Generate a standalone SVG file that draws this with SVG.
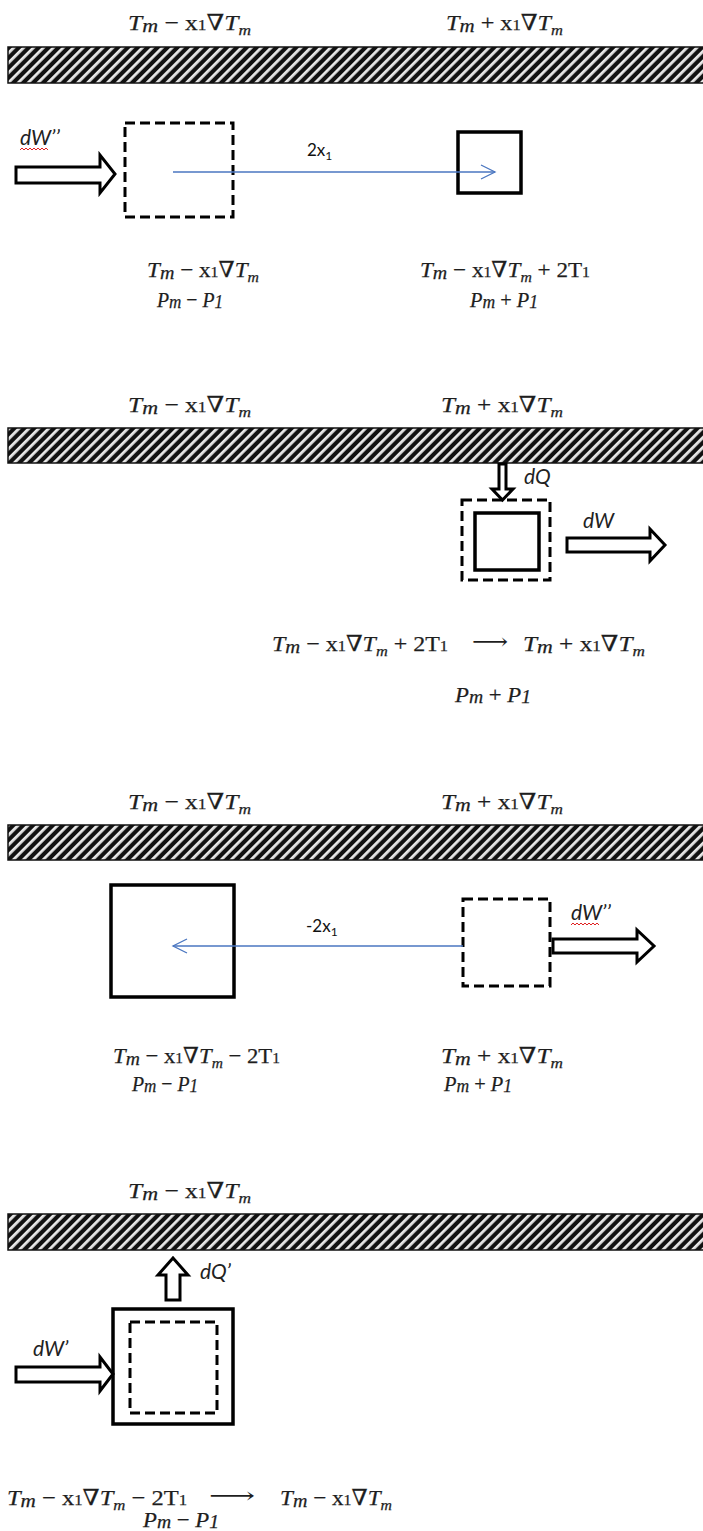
<svg xmlns="http://www.w3.org/2000/svg" width="703" height="1531" viewBox="0 0 703 1531">
<style>
.mt{font-family:"Liberation Serif","DejaVu Serif",serif;font-size:22px;fill:#1e1e1e;stroke:#1e1e1e;stroke-width:0.25}
.pt{font-family:"Liberation Serif","DejaVu Serif",serif;font-size:22px;fill:#1e1e1e;stroke:#1e1e1e;stroke-width:0.25}
.it{font-style:italic}
.sb{font-size:15px}
.sm{font-size:19px}
.ar{font-family:"DejaVu Serif","Liberation Serif",serif;font-size:22px;fill:#1e1e1e}
.lb{font-family:Lato,"Liberation Sans",sans-serif;font-size:17px;fill:#111}
.dl{font-family:Lato,"Liberation Sans",sans-serif;font-style:italic;font-size:21px;fill:#222}
.bar{fill:url(#hatch);stroke:#111;stroke-width:1.5}
.solid{fill:none;stroke:#000;stroke-width:3.5}
.dash{fill:none;stroke:#000;stroke-width:3;stroke-dasharray:10 5}
.hol{fill:#fff;stroke:#000;stroke-width:3;stroke-linejoin:miter}
.blue{fill:none;stroke:#4a76c0;stroke-width:1.3}
.wavy{fill:none;stroke:#e02020;stroke-width:1}
</style>
<defs>
<pattern id="hatch" width="7" height="7" patternUnits="userSpaceOnUse" patternTransform="rotate(45)">
<rect width="7" height="7" fill="#111"/>
<rect x="0" y="0" width="2.8" height="7" fill="#e8e8e8"/>
</pattern>
</defs>
<rect width="703" height="1531" fill="#fff"/>

<!-- Panel 1 -->
<g id="panel1">
<g id="p1-top-left"><text class="mt" x="128" y="30" textLength="123" lengthAdjust="spacingAndGlyphs"><tspan class="it">T</tspan><tspan class="it sm" dy="2">m</tspan><tspan dy="-2"> − x</tspan><tspan class="sb">1</tspan><tspan>∇</tspan><tspan class="it">T</tspan><tspan class="it sb" dy="5">m</tspan></text></g>
<g id="p1-top-right"><text class="mt" x="446" y="30" textLength="117" lengthAdjust="spacingAndGlyphs"><tspan class="it">T</tspan><tspan class="it sm" dy="2">m</tspan><tspan dy="-2"> + x</tspan><tspan class="sb">1</tspan><tspan>∇</tspan><tspan class="it">T</tspan><tspan class="it sb" dy="5">m</tspan></text></g>
<rect id="p1-wall" class="bar" x="8" y="47" width="700" height="36"/>
<g id="p1-dW">
<text class="dl" x="20" y="145">dW’’</text>
<path class="wavy" d="M20,150 l2,-2 l2,2 l2,-2 l2,2 l2,-2 l2,2 l2,-2 l2,2 l2,-2 l2,2 l2,-2 l2,2 l2,-2 l2,2"/>
</g>
<polygon id="p1-arrow" class="hol" points="16,167 100,167 100,155 115,174 100,193 100,183 16,183"/>
<rect id="p1-dashed-box" class="dash" x="125" y="123" width="108" height="94"/>
<rect id="p1-solid-box" class="solid" x="458" y="132" width="63" height="61"/>
<g id="p1-low-left">
<text class="mt" x="147" y="277" textLength="112" lengthAdjust="spacingAndGlyphs"><tspan class="it">T</tspan><tspan class="it sm" dy="2">m</tspan><tspan dy="-2"> − x</tspan><tspan class="sb">1</tspan><tspan>∇</tspan><tspan class="it">T</tspan><tspan class="it sb" dy="5">m</tspan></text>
<text class="pt" x="157" y="307" textLength="66" lengthAdjust="spacingAndGlyphs"><tspan class="it">P</tspan><tspan class="it sm" dy="1">m</tspan><tspan dy="-1"> − </tspan><tspan class="it">P</tspan><tspan class="it sm" dy="1">1</tspan></text>
</g>
<g id="p1-low-right">
<text class="mt" x="420" y="277" textLength="170" lengthAdjust="spacingAndGlyphs"><tspan class="it">T</tspan><tspan class="it sm" dy="2">m</tspan><tspan dy="-2"> − x</tspan><tspan class="sb">1</tspan><tspan>∇</tspan><tspan class="it">T</tspan><tspan class="it sb" dy="5">m</tspan><tspan dy="-5"> + 2T</tspan><tspan class="sb">1</tspan></text>
<text class="pt" x="470" y="307" textLength="68" lengthAdjust="spacingAndGlyphs"><tspan class="it">P</tspan><tspan class="it sm" dy="1">m</tspan><tspan dy="-1"> + </tspan><tspan class="it">P</tspan><tspan class="it sm" dy="1">1</tspan></text>
</g>
</g>

<!-- Panel 2 -->
<g id="panel2">
<g id="p2-top-left"><text class="mt" x="128" y="412" textLength="123" lengthAdjust="spacingAndGlyphs"><tspan class="it">T</tspan><tspan class="it sm" dy="2">m</tspan><tspan dy="-2"> − x</tspan><tspan class="sb">1</tspan><tspan>∇</tspan><tspan class="it">T</tspan><tspan class="it sb" dy="5">m</tspan></text></g>
<g id="p2-top-right"><text class="mt" x="441" y="412" textLength="122" lengthAdjust="spacingAndGlyphs"><tspan class="it">T</tspan><tspan class="it sm" dy="2">m</tspan><tspan dy="-2"> + x</tspan><tspan class="sb">1</tspan><tspan>∇</tspan><tspan class="it">T</tspan><tspan class="it sb" dy="5">m</tspan></text></g>
<rect id="p2-wall" class="bar" x="8" y="428" width="700" height="35"/>
<polygon id="p2-dQ-arrow" class="hol" points="499,464 506,464 506,489 513,489 502.5,500 492,489 499,489"/>
<text id="p2-dQ" class="dl" x="524" y="484">dQ</text>
<rect id="p2-dashed-box" class="dash" x="462" y="500" width="88" height="80"/>
<rect id="p2-solid-box" class="solid" x="475" y="513" width="64" height="57"/>
<text id="p2-dW" class="dl" x="583" y="528">dW</text>
<polygon id="p2-arrow" class="hol" points="567,538 650,538 650,529 665,545 650,561 650,552 567,552"/>
<g id="p2-low">
<text class="mt" x="272" y="651" textLength="176" lengthAdjust="spacingAndGlyphs"><tspan class="it">T</tspan><tspan class="it sm" dy="2">m</tspan><tspan dy="-2"> − x</tspan><tspan class="sb">1</tspan><tspan>∇</tspan><tspan class="it">T</tspan><tspan class="it sb" dy="5">m</tspan><tspan dy="-5"> + 2T</tspan><tspan class="sb">1</tspan></text>
<text class="ar" x="472" y="649" textLength="36" lengthAdjust="spacingAndGlyphs">⟶</text>
<text class="mt" x="523" y="651" textLength="122" lengthAdjust="spacingAndGlyphs"><tspan class="it">T</tspan><tspan class="it sm" dy="2">m</tspan><tspan dy="-2"> + x</tspan><tspan class="sb">1</tspan><tspan>∇</tspan><tspan class="it">T</tspan><tspan class="it sb" dy="5">m</tspan></text>
<text class="pt" x="455" y="702" textLength="76" lengthAdjust="spacingAndGlyphs"><tspan class="it">P</tspan><tspan class="it sm" dy="1">m</tspan><tspan dy="-1"> + </tspan><tspan class="it">P</tspan><tspan class="it sm" dy="1">1</tspan></text>
</g>
</g>

<!-- Panel 3 -->
<g id="panel3">
<g id="p3-top-left"><text class="mt" x="128" y="809" textLength="123" lengthAdjust="spacingAndGlyphs"><tspan class="it">T</tspan><tspan class="it sm" dy="2">m</tspan><tspan dy="-2"> − x</tspan><tspan class="sb">1</tspan><tspan>∇</tspan><tspan class="it">T</tspan><tspan class="it sb" dy="5">m</tspan></text></g>
<g id="p3-top-right"><text class="mt" x="441" y="809" textLength="122" lengthAdjust="spacingAndGlyphs"><tspan class="it">T</tspan><tspan class="it sm" dy="2">m</tspan><tspan dy="-2"> + x</tspan><tspan class="sb">1</tspan><tspan>∇</tspan><tspan class="it">T</tspan><tspan class="it sb" dy="5">m</tspan></text></g>
<rect id="p3-wall" class="bar" x="8" y="825" width="700" height="35"/>
<rect id="p3-solid-box" class="solid" x="111" y="885" width="123" height="112"/>
<rect id="p3-dashed-box" class="dash" x="463" y="899" width="87" height="87"/>
<g id="p3-dW">
<text class="dl" x="571" y="920">dW’’</text>
<path class="wavy" d="M571,925 l2,-2 l2,2 l2,-2 l2,2 l2,-2 l2,2 l2,-2 l2,2 l2,-2 l2,2 l2,-2 l2,2 l2,-2 l2,2"/>
</g>
<polygon id="p3-arrow" class="hol" points="553,939 637,939 637,930 654,946 637,962 637,953 553,953"/>
<g id="p3-low-left">
<text class="mt" x="113" y="1063" textLength="167" lengthAdjust="spacingAndGlyphs"><tspan class="it">T</tspan><tspan class="it sm" dy="2">m</tspan><tspan dy="-2"> − x</tspan><tspan class="sb">1</tspan><tspan>∇</tspan><tspan class="it">T</tspan><tspan class="it sb" dy="5">m</tspan><tspan dy="-5"> − 2T</tspan><tspan class="sb">1</tspan></text>
<text class="pt" x="132" y="1091" textLength="66" lengthAdjust="spacingAndGlyphs"><tspan class="it">P</tspan><tspan class="it sm" dy="1">m</tspan><tspan dy="-1"> − </tspan><tspan class="it">P</tspan><tspan class="it sm" dy="1">1</tspan></text>
</g>
<g id="p3-low-right">
<text class="mt" x="441" y="1063" textLength="122" lengthAdjust="spacingAndGlyphs"><tspan class="it">T</tspan><tspan class="it sm" dy="2">m</tspan><tspan dy="-2"> + x</tspan><tspan class="sb">1</tspan><tspan>∇</tspan><tspan class="it">T</tspan><tspan class="it sb" dy="5">m</tspan></text>
<text class="pt" x="444" y="1091" textLength="68" lengthAdjust="spacingAndGlyphs"><tspan class="it">P</tspan><tspan class="it sm" dy="1">m</tspan><tspan dy="-1"> + </tspan><tspan class="it">P</tspan><tspan class="it sm" dy="1">1</tspan></text>
</g>
</g>

<!-- Panel 4 -->
<g id="panel4">
<g id="p4-top-left"><text class="mt" x="128" y="1198" textLength="123" lengthAdjust="spacingAndGlyphs"><tspan class="it">T</tspan><tspan class="it sm" dy="2">m</tspan><tspan dy="-2"> − x</tspan><tspan class="sb">1</tspan><tspan>∇</tspan><tspan class="it">T</tspan><tspan class="it sb" dy="5">m</tspan></text></g>
<rect id="p4-wall" class="bar" x="8" y="1214" width="700" height="36"/>
<polygon id="p4-dQ-arrow" class="hol" points="166,1300 166,1275 158,1275 173,1258 188,1275 180,1275 180,1300"/>
<text id="p4-dQ" class="dl" x="200" y="1279">dQ’</text>
<rect id="p4-solid-box" class="solid" x="113" y="1309" width="120" height="115"/>
<rect id="p4-dashed-box" class="dash" x="130" y="1322" width="87" height="91"/>
<text id="p4-dW" class="dl" x="33" y="1356">dW’</text>
<polygon id="p4-arrow" class="hol" points="16,1367 100,1367 100,1357 113,1374 100,1391 100,1382 16,1382"/>
<g id="p4-low">
<text class="mt" x="7" y="1505" textLength="180" lengthAdjust="spacingAndGlyphs"><tspan class="it">T</tspan><tspan class="it sm" dy="2">m</tspan><tspan dy="-2"> − x</tspan><tspan class="sb">1</tspan><tspan>∇</tspan><tspan class="it">T</tspan><tspan class="it sb" dy="5">m</tspan><tspan dy="-5"> − 2T</tspan><tspan class="sb">1</tspan></text>
<text class="ar" x="209" y="1503" textLength="46" lengthAdjust="spacingAndGlyphs">⟶</text>
<text class="mt" x="280" y="1505" textLength="112" lengthAdjust="spacingAndGlyphs"><tspan class="it">T</tspan><tspan class="it sm" dy="2">m</tspan><tspan dy="-2"> − x</tspan><tspan class="sb">1</tspan><tspan>∇</tspan><tspan class="it">T</tspan><tspan class="it sb" dy="5">m</tspan></text>
<text class="pt" x="143" y="1527" textLength="76" lengthAdjust="spacingAndGlyphs"><tspan class="it">P</tspan><tspan class="it sm" dy="1">m</tspan><tspan dy="-1"> − </tspan><tspan class="it">P</tspan><tspan class="it sm" dy="1">1</tspan></text>
</g>
</g>

<!-- Connectors -->
<g id="connectors">
<g id="c-2x1">
<line class="blue" x1="173" y1="172" x2="495" y2="172"/>
<polyline class="blue" points="481,165 495,172 481,179"/>
<text class="lb" x="307" y="156">2x<tspan font-size="12" dy="4">1</tspan></text>
</g>
<g id="c-minus2x1">
<line class="blue" x1="463" y1="946" x2="173" y2="946"/>
<polyline class="blue" points="187,939 173,946 187,953"/>
<text class="lb" x="306" y="932">-2x<tspan font-size="12" dy="4">1</tspan></text>
</g>
</g>
</svg>
